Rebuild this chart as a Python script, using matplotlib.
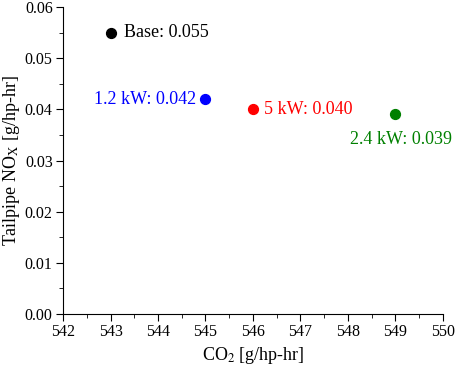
import matplotlib.pyplot as plt
from matplotlib.ticker import MultipleLocator

plt.rcParams['font.family'] = ['Liberation Serif', 'DejaVu Serif']
plt.rcParams['mathtext.fontset'] = 'stix'

cases = ['Base', '1.2 kW', '5 kW', '2.4 kW']
co2 = [543, 545, 546, 549]
nox = [0.055, 0.042, 0.040, 0.039]
colors = ['black', '#0000ff', '#ff0000', '#008000']

fig = plt.figure(figsize=(4.57, 3.72), dpi=100)
ax = fig.add_axes([0.138, 0.156, 0.831, 0.825])

for c, x, y, col in zip(cases, co2, nox, colors):
    ax.scatter(x, y, s=50, color=col, zorder=3)
    label = '{}: {:.3f}'.format(c, y)
    if c == '1.2 kW':
        ax.annotate(label, (x, y), xytext=(-7, 0), textcoords='offset points',
                    ha='right', va='center', color=col, fontsize=13)
    elif c == '2.4 kW':
        ax.annotate(label, (x, y), xytext=(4, -12), textcoords='offset points',
                    ha='center', va='top', color=col, fontsize=13)
    elif c == 'Base':
        ax.annotate(label, (x, y), xytext=(9.5, 0), textcoords='offset points',
                    ha='left', va='center', color=col, fontsize=13)
    else:
        ax.annotate(label, (x, y), xytext=(8, 0), textcoords='offset points',
                    ha='left', va='center', color=col, fontsize=13)

ax.set_xlim(542, 550)
ax.set_ylim(0, 0.06)
ax.xaxis.set_major_locator(MultipleLocator(1))
ax.xaxis.set_minor_locator(MultipleLocator(0.5))
ax.yaxis.set_major_locator(MultipleLocator(0.01))
ax.yaxis.set_minor_locator(MultipleLocator(0.005))
ax.yaxis.set_major_formatter(plt.FormatStrFormatter('%.2f'))
ax.spines['top'].set_visible(False)
ax.spines['right'].set_visible(False)
ax.tick_params(which='major', direction='out', length=5, labelsize=11.5, pad=2.5)
ax.tick_params(which='minor', direction='out', length=3)
ax.set_xlabel(r'CO$_2$ [g/hp-hr]', fontsize=13, labelpad=3)
ax.set_ylabel(r'Tailpipe NO$_\mathrm{X}$ [g/hp-hr]', fontsize=13, labelpad=2)

plt.savefig('out.png', dpi=100)
